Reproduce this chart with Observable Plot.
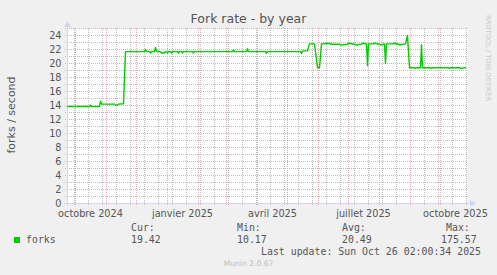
<!DOCTYPE html>
<html>
<head>
<meta charset="utf-8">
<script src="https://cdn.jsdelivr.net/npm/d3@7"></script>
<script src="https://cdn.jsdelivr.net/npm/@observablehq/plot@0.6"></script>
<style>
  html, body { margin: 0; padding: 0; background: #f0f0f0; }
  #wrap { position: relative; width: 497px; height: 275px; background: #f0f0f0; overflow: hidden; }
  #chart { position: absolute; left: 0; top: 0; }
  .t { position: absolute; white-space: pre; line-height: 1; color: #555; font-family: "DejaVu Sans", sans-serif; }
  .m { font-family: "DejaVu Sans Mono", monospace; font-size: 9.9px; }
</style>
</head>
<body>
<div id="wrap">
  <div id="chart"></div>
</div>
<script>
// ---- data ----
const title = "Fork rate - by year";
const yLabel = "forks / second";
const seriesName = "forks";
const seriesColor = "#00cc00";

const dates = [
  "2024-09-23","2024-10-15","2024-10-16","2024-10-17","2024-10-25","2024-10-26","2024-10-27",
  "2024-11-09","2024-11-10","2024-11-12","2024-11-13","2024-11-18","2024-11-20",
  "2024-12-09","2024-12-10","2024-12-11","2024-12-14","2024-12-15","2024-12-16","2024-12-19","2024-12-20","2024-12-21","2024-12-22",
  "2024-12-25","2024-12-26","2024-12-29","2024-12-30","2024-12-31","2025-01-01","2025-01-02",
  "2025-01-04","2025-01-05","2025-01-06","2025-01-11","2025-01-12","2025-01-13","2025-01-15","2025-01-16","2025-01-17",
  "2025-01-26","2025-01-27","2025-01-28","2025-03-07","2025-03-08","2025-03-09","2025-03-21","2025-03-22","2025-03-23",
  "2025-04-09","2025-04-10","2025-04-11","2025-05-14","2025-05-15","2025-05-16","2025-05-21","2025-05-23",
  "2025-05-28","2025-05-31","2025-06-02","2025-06-04",
  "2025-06-12","2025-06-13","2025-06-22","2025-06-23","2025-06-30","2025-07-01","2025-07-07","2025-07-08","2025-07-14","2025-07-15",
  "2025-07-19","2025-07-20","2025-07-21","2025-07-26","2025-07-27","2025-08-01","2025-08-02",
  "2025-08-06","2025-08-07","2025-08-08","2025-08-14","2025-08-15","2025-08-20","2025-08-21",
  "2025-08-27","2025-08-29","2025-08-31","2025-09-05","2025-09-06","2025-09-07",
  "2025-09-11","2025-09-12","2025-09-13","2025-09-20","2025-09-21","2025-09-22",
  "2025-10-09","2025-10-10","2025-10-11","2025-10-20","2025-10-21","2025-10-23","2025-10-24","2025-10-26"
];
const values = [
  13.85,13.85,14.05,13.85,13.85,14.6,14.2,
  14.2,14.05,14.05,14.2,14.25,21.7,
  21.7,22.0,21.7,21.7,21.5,21.7,21.7,22.3,21.8,21.7,
  21.7,21.5,21.5,21.7,21.7,21.5,21.7,
  21.7,21.5,21.7,21.7,21.5,21.7,21.7,21.5,21.7,
  21.7,21.5,21.7,21.7,21.95,21.7,21.7,22.1,21.7,
  21.7,21.45,21.7,21.7,21.4,21.8,21.8,22.8,
  22.8,19.4,19.4,22.8,
  22.9,22.75,22.75,22.65,22.75,22.9,22.75,22.65,22.75,22.9,
  22.8,19.7,22.8,22.8,22.9,22.75,22.65,
  22.8,20.0,22.8,22.8,22.9,22.75,22.65,
  22.8,24.0,19.4,19.4,19.3,19.4,
  19.4,22.7,19.4,19.4,19.3,19.4,
  19.4,19.3,19.4,19.4,19.3,19.3,19.4,19.4
];

const yTicks = [0,2,4,6,8,10,12,14,16,18,20,22,24];
const xTickDates = ["2024-10-16","2025-01-16","2025-04-16","2025-07-16","2025-10-16"];
const xTickLabels = ["octobre 2024","janvier 2025","avril 2025","juillet 2025","octobre 2025"];
const xStart = "2024-09-23";
const xEnd = "2025-10-28";
const yMax = 25;

const legendHeads = ["Cur:","Min:","Avg:","Max:"];
const legendVals = ["19.42","10.17","20.49","175.57"];
const lastUpdate = "Last update: Sun Oct 26 02:00:34 2025";
const footer = "Munin 2.0.67";
const watermark = "RRDTOOL / TOBI OETIKER";

// ---- build ----
const parse = d3.utcParse("%Y-%m-%d");
const data = dates.map((d, i) => ({date: parse(d), value: values[i]}));
const start = parse(xStart), end = parse(xEnd);
const months = d3.utcMonth.range(start, end);
const weeks = d3.utcMonday.range(d3.utcMonday.floor(d3.utcDay.offset(start, -7)), end, 2).filter(d => d >= start);
const minorY = d3.range(1, yMax + 1).filter(v => v % 2 === 1);
const majorY = yTicks.filter(v => v > 0);
const tickLabelMap = new Map(xTickDates.map((d, i) => [+parse(d), xTickLabels[i]]));

const axisColor = "#CFD6F8";
const gridGrey = "#bcbcbc";
const gridRed = "#f0a6a6";
const dots = {strokeDasharray: "1,1"};
const chart = Plot.plot({
  width: 497, height: 275,
  marginTop: 28, marginBottom: 72, marginLeft: 67, marginRight: 30,
  style: {background: "transparent", fontFamily: "DejaVu Sans", fontSize: "9.72px", color: "#555", overflow: "visible"},
  x: {type: "utc", domain: [start, end], axis: null},
  y: {domain: [0, yMax], axis: null},
  marks: [
    Plot.frame({fill: "white", stroke: "none"}),
    Plot.ruleY(minorY, {stroke: gridGrey, ...dots, insetLeft: -2}),
    Plot.ruleX(weeks, {stroke: gridGrey, ...dots, insetBottom: -2}),
    Plot.ruleY(majorY, {stroke: gridRed, ...dots, insetLeft: -2}),
    Plot.ruleX(months, {stroke: gridRed, ...dots, insetBottom: -2}),
    Plot.ruleY([0], {stroke: axisColor, insetLeft: -3, insetRight: -4}),
    Plot.ruleX([start], {stroke: axisColor, insetBottom: -3, insetTop: -3}),
    Plot.dot([start], {x: d => d, y: () => yMax, symbol: "triangle", r: 2.6, fill: axisColor, stroke: "none", dy: -3.5}),
    Plot.dot([end], {x: d => d, y: () => 0, symbol: "triangle", r: 2.6, fill: axisColor, stroke: "none", rotate: 90, dx: 4.5}),
    Plot.axisY(yTicks, {label: null, tickSize: 0, tickPadding: 6, fontSize: 9.72, fill: "#555"}),
    Plot.axisX(xTickDates.map(parse), {label: null, tickSize: 0, tickPadding: 6.5, fontSize: 9.72, fill: "#555", tickFormat: d => tickLabelMap.get(+d)}),
    Plot.line(data, {x: "date", y: "value", stroke: seriesColor, strokeWidth: 1.4, clip: true})
  ]
});
document.getElementById("chart").appendChild(chart);

// ---- text around the chart ----
const wrap = document.getElementById("wrap");
function addText(txt, css, cls = "t") {
  const el = document.createElement("div");
  el.className = cls;
  el.textContent = txt;
  Object.assign(el.style, css);
  wrap.appendChild(el);
  return el;
}
addText(title, {left: "0px", width: "497px", textAlign: "center", top: "12.5px", fontSize: "12.5px"});
addText(yLabel, {left: "5.7px", top: "215px", width: "200px", textAlign: "center", fontSize: "11px",
  transformOrigin: "0 0", transform: "rotate(-90deg)"});
addText(watermark, {left: "490.5px", top: "15px", fontSize: "6.7px", color: "#c8c8c8",
  transformOrigin: "0 0", transform: "rotate(90deg)"});

const sw = document.createElement("div");
Object.assign(sw.style, {position: "absolute", left: "14px", top: "237px", width: "6px", height: "6px", background: seriesColor});
wrap.appendChild(sw);
addText(seriesName, {left: "26px", top: "234.9px"}, "t m");
const headX = [131, 237, 342, 446];
const valX = [131, 237, 342, 441];
legendHeads.forEach((h, i) => addText(h, {left: headX[i] + "px", top: "222.5px"}, "t m"));
legendVals.forEach((v, i) => addText(v, {left: valX[i] + "px", top: "234.9px"}, "t m"));
addText(lastUpdate, {left: "261px", top: "246.8px"}, "t m");
addText(footer, {left: "0px", width: "497px", textAlign: "center", top: "259.6px", fontSize: "7.6px", color: "#bdbdbd"});
</script>
</body>
</html>
